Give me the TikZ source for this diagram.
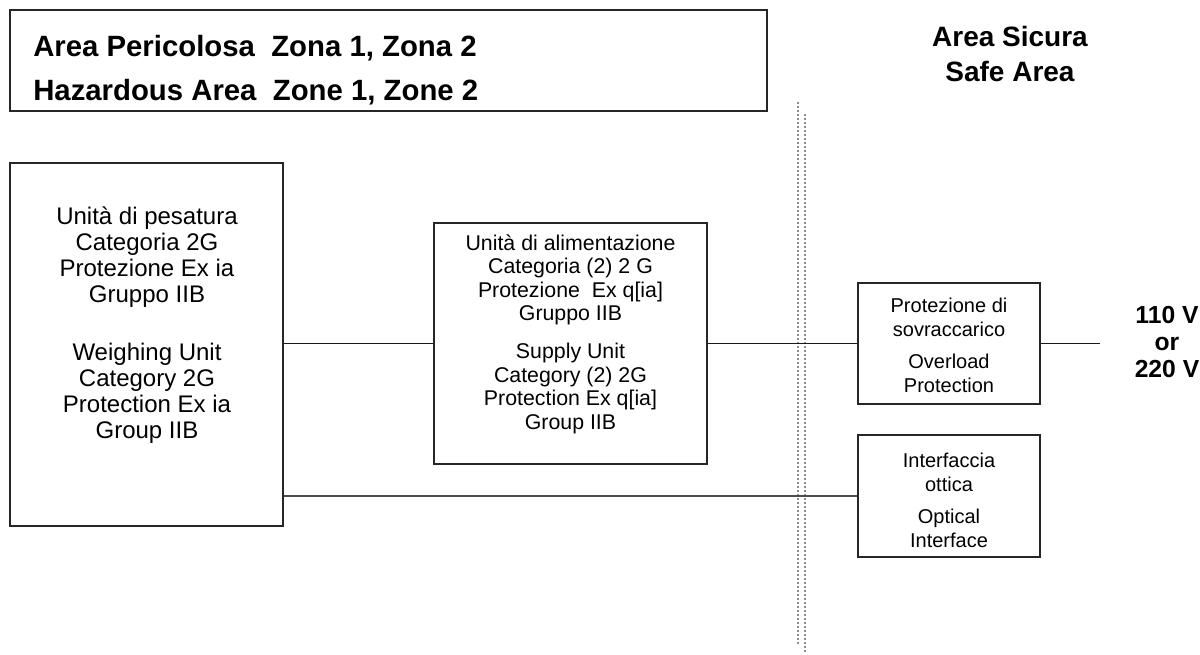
\documentclass[tikz,border=0pt]{standalone}
\usepackage{fontspec}
\setmainfont{Liberation Sans}
\begin{document}
\begin{tikzpicture}[x=0.75pt,y=-0.75pt,
  box/.style={draw=black!85,line width=1pt,inner sep=0pt,rectangle},
  wire/.style={draw=black!90,line width=0.8pt},
  zone/.style={draw=black!45,line width=1.1pt,dash pattern=on 1.6pt off 1.4pt},
  txt/.style={align=center,inner sep=0pt}]
\useasboundingbox (0,0) rectangle (1200,655);
% boxes
\node[box,minimum width=567.75pt,minimum height=75.75pt] (T) at (388.5,60.5) {};
\node[box,minimum width=204.75pt,minimum height=272.25pt] (L) at (146.5,344.5) {};
\node[box,minimum width=204.75pt,minimum height=180.75pt] (M) at (570.5,343.5) {};
\node[box,minimum width=136.5pt,minimum height=90.75pt] (O) at (949,343.5) {};
\node[box,minimum width=136.5pt,minimum height=91.5pt] (P) at (949,496) {};
% title
\node[inner sep=0pt,anchor=base west,font=\fontsize{22pt}{26pt}\selectfont\bfseries] (t1) at (33,56.5) {Area Pericolosa\ \ Zona 1, Zona 2};
\node[inner sep=0pt,anchor=base west,font=\fontsize{22pt}{26pt}\selectfont\bfseries] (t2) at (33,101) {Hazardous Area\ \ Zone 1, Zone 2};
\node[inner sep=0pt,anchor=base,font=\fontsize{21pt}{25pt}\selectfont\bfseries] (s1) at (1010,47) {Area Sicura};
\node[inner sep=0pt,anchor=base,font=\fontsize{21pt}{25pt}\selectfont\bfseries] (s2) at (1010,82) {Safe Area};
% zone separator
\draw[zone] (798,102) -- (798,645);
\draw[zone] (805,114) -- (805,653);
% box texts
\node[txt,font=\fontsize{18pt}{19.5pt}\selectfont] (Lt) at (147,325) {Unità di pesatura\\Categoria 2G\\Protezione Ex ia\\Gruppo IIB\\[24pt]Weighing Unit\\Category 2G\\Protection Ex ia\\Group IIB};
\node[txt,font=\fontsize{16pt}{17.6pt}\selectfont] (Mt) at (570.5,334) {Unità di alimentazione\\Categoria (2) 2 G\\Protezione\ \ Ex q[ia]\\Gruppo IIB\\[11pt]Supply Unit\\Category (2) 2G\\Protection Ex q[ia]\\Group IIB};
\node[txt,font=\fontsize{15pt}{18pt}\selectfont] (Ot) at (949,345) {Protezione di\\sovraccarico\\[6pt]Overload\\Protection};
\node[txt,font=\fontsize{15pt}{18pt}\selectfont] (Pt) at (949,500) {Interfaccia\\ottica\\[6pt]Optical\\Interface};
\node[txt,font=\fontsize{18.5pt}{20pt}\selectfont\bfseries] (V) at (1167,342) {110 V\\or\\220 V};
% connectors
\coordinate (vend) at (1100,343.5);
\draw[wire] (L.east |- M.west) -- (M.west);
\draw[wire] (M.east) -- (O.west);
\draw[wire] (O.east) -- (vend);
\draw[wire,draw=black!70] (L.east |- P.west) -- (P.west);
\end{tikzpicture}
\end{document}
